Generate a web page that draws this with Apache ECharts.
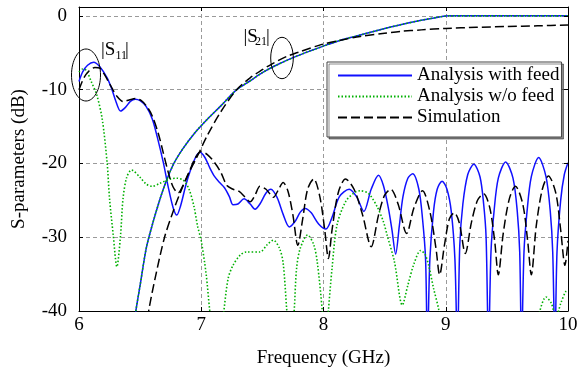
<!DOCTYPE html>
<html>
<head>
<meta charset="utf-8">
<script src="https://cdn.jsdelivr.net/npm/echarts@6/dist/echarts.min.js"></script>
<style>
html,body{margin:0;padding:0;background:#fff;}
#chart{width:585px;height:373px;}
</style>
</head>
<body>
<div id="chart"></div>
<script>
// ---- data (frequency in GHz, value in dB) ----
var xTicks = [6, 7, 8, 9, 10];
var yTicks = [-40, -30, -20, -10, 0];
var seriesNames = ['Analysis with feed', 'Analysis w/o feed', 'Simulation'];

var s11WithFeed = [
  [6.0,-8.9],[6.03,-7.6],[6.07,-6.7],[6.12,-6.3],[6.17,-6.9],[6.23,-8.4],[6.27,-10.0],[6.30,-11.5],
  [6.34,-12.9],[6.38,-12.4],[6.42,-11.6],[6.46,-11.3],[6.50,-11.5],[6.55,-12.3],[6.60,-14.0],[6.64,-16.4],
  [6.69,-19.9],[6.73,-23.2],[6.77,-26.0],[6.80,-27.0],[6.83,-25.8],[6.87,-23.2],[6.90,-21.5],[6.95,-19.3],
  [6.99,-18.5],[7.03,-19.2],[7.07,-20.6],[7.11,-21.8],[7.15,-22.6],[7.19,-23.3],[7.23,-24.5],[7.26,-25.6],
  [7.30,-25.5],[7.35,-24.8],[7.40,-25.5],[7.44,-26.2],[7.48,-25.5],[7.53,-24.0],[7.57,-23.5],[7.62,-24.6],
  [7.67,-26.9],[7.72,-28.6],[7.77,-27.8],[7.81,-26.6],[7.85,-26.1],[7.90,-26.7],[7.96,-28.2],[8.02,-28.9],
  [8.07,-27.3],[8.13,-24.5],[8.21,-23.5],[8.27,-24.5],[8.33,-26.5],[8.39,-23.5],[8.45,-21.6],[8.49,-23.0],
  [8.53,-26.0],[8.56,-29.0],[8.59,-32.3],[8.62,-28.5],[8.65,-24.5],[8.69,-22.0],[8.73,-21.4],[8.78,-23.5],
  [8.81,-27.5],[8.835,-33],[8.85,-45],[8.87,-33],[8.90,-26.5],[8.93,-23.5],[8.97,-22.4],[9.01,-23.5],
  [9.045,-26.5],[9.075,-33],[9.095,-45],[9.115,-31],[9.14,-25.5],[9.18,-21.5],[9.23,-20.1],[9.28,-21.8],
  [9.31,-25.5],[9.33,-30],[9.35,-45],[9.37,-32],[9.395,-26.5],[9.43,-22.0],[9.49,-19.8],[9.55,-22.0],
  [9.585,-26.5],[9.605,-32],[9.62,-45],[9.64,-32],[9.665,-26.5],[9.70,-21.8],[9.76,-19.2],[9.82,-21.8],
  [9.855,-26.5],[9.875,-32],[9.893,-45],[9.91,-32],[9.94,-25.0],[9.97,-21.5],[10.0,-19.9]
];

var s21WithFeed = [
  [6.40,-48],[6.465,-40],[6.50,-36.5],[6.55,-31.5],[6.60,-28.3],[6.65,-25.5],[6.70,-23.0],[6.77,-20.2],
  [6.85,-18.0],[6.95,-15.8],[7.05,-14.0],[7.16,-12.2],[7.29,-10.0],[7.40,-8.8],[7.50,-7.7],[7.60,-6.8],
  [7.76,-5.6],[7.90,-4.7],[8.00,-4.1],[8.14,-3.3],[8.30,-2.6],[8.47,-1.85],[8.63,-1.2],[8.80,-0.6],
  [8.95,-0.15],[9.03,0],[9.5,0],[10.0,0]
];

var s11WithoutFeed = [
  [6.0,-7.6],[6.03,-7.2],[6.06,-7.4],[6.10,-8.9],[6.145,-10.7],[6.19,-14.0],[6.23,-19.9],[6.25,-24.8],
  [6.28,-29.7],[6.31,-34.0],[6.34,-29.7],[6.36,-24.8],[6.39,-21.9],[6.43,-20.9],[6.50,-21.9],[6.55,-22.8],
  [6.60,-23.1],[6.66,-22.7],[6.75,-22.1],[6.80,-22.0],[6.855,-22.3],[6.90,-23.5],[6.94,-25.8],[6.97,-28.5],
  [7.00,-30.5],[7.04,-35],[7.07,-40],[7.13,-48],[7.185,-40],[7.22,-35.6],[7.26,-33.8],[7.32,-32.4],
  [7.37,-32.0],[7.48,-32.0],[7.54,-31.0],[7.59,-30.4],[7.64,-31.5],[7.67,-33.5],[7.70,-40],[7.73,-46],
  [7.76,-40],[7.78,-34.2],[7.81,-31.5],[7.87,-29.7],[7.92,-31.0],[7.95,-33.5],[7.99,-40],[8.015,-46],
  [8.04,-40],[8.07,-34.2],[8.11,-28.4],[8.18,-25.2],[8.25,-24.0],[8.30,-23.7],[8.37,-24.1],[8.44,-25.9],
  [8.49,-27.9],[8.52,-29.7],[8.58,-33.3],[8.645,-39.2],[8.69,-36.5],[8.74,-33.6],[8.795,-31.8],[8.83,-32.3],
  [8.86,-33.8],[8.90,-36.9],[8.945,-40],[9.0,-46],[9.2,-50],[9.5,-50],[9.7,-46],[9.77,-40],
  [9.82,-38.1],[9.865,-39.0],[9.90,-41],[9.94,-39.0],[9.98,-37.4],[10.0,-37.2]
];

var s21WithoutFeed = s21WithFeed; // identical curve in the reference

var s11Simulation = [
  [6.0,-10.0],[6.04,-8.4],[6.08,-7.5],[6.13,-7.0],[6.17,-7.1],[6.21,-8.0],[6.26,-9.5],[6.31,-10.9],
  [6.36,-11.6],[6.41,-11.4],[6.46,-11.2],[6.51,-11.5],[6.56,-12.4],[6.60,-13.6],[6.65,-16.0],[6.69,-18.6],
  [6.73,-21.2],[6.77,-23.2],[6.81,-24.0],[6.85,-23.0],[6.90,-21.2],[6.95,-19.3],[7.00,-18.4],[7.05,-18.8],
  [7.11,-19.9],[7.16,-21.2],[7.21,-23.0],[7.26,-23.5],[7.31,-23.8],[7.36,-24.6],[7.40,-25.2],[7.44,-24.3],
  [7.48,-23.1],[7.53,-23.5],[7.59,-24.6],[7.63,-23.6],[7.67,-22.6],[7.71,-23.8],[7.75,-27.0],[7.79,-31.1],
  [7.83,-27.5],[7.87,-23.5],[7.92,-22.1],[7.97,-24.5],[8.01,-29.0],[8.04,-32.9],[8.07,-29.0],[8.12,-24.0],
  [8.18,-22.1],[8.25,-23.5],[8.32,-27.0],[8.39,-31.3],[8.45,-27.0],[8.50,-24.3],[8.55,-23.5],[8.61,-25.5],
  [8.68,-29.5],[8.74,-26.0],[8.81,-23.7],[8.87,-26.5],[8.92,-31.5],[8.95,-35.1],[8.99,-31.0],[9.03,-27.5],
  [9.07,-26.7],[9.11,-28.0],[9.16,-32.2],[9.21,-28.0],[9.26,-25.0],[9.31,-24.1],[9.36,-26.0],[9.40,-30.5],
  [9.43,-35.1],[9.47,-29.5],[9.52,-24.8],[9.57,-23.1],[9.63,-25.5],[9.67,-30.5],[9.70,-35.1],[9.74,-28.5],
  [9.79,-23.5],[9.84,-21.7],[9.90,-24.0],[9.94,-29.0],[9.975,-33.8],[10.0,-30.5]
];

var s21Simulation = [
  [6.50,-48],[6.57,-40],[6.63,-35],[6.70,-30],[6.77,-26.5],[6.83,-23.9],[6.90,-21.2],[6.96,-19.3],
  [7.05,-16.2],[7.16,-13.0],[7.29,-10.0],[7.40,-8.4],[7.50,-7.3],[7.58,-6.5],[7.70,-5.5],[7.80,-4.9],
  [7.98,-3.9],[8.14,-3.3],[8.30,-2.8],[8.50,-2.35],[8.63,-2.1],[8.80,-1.9],[9.00,-1.7],[9.25,-1.55],
  [9.50,-1.45],[9.75,-1.35],[10.0,-1.25]
];

// ---- chart ----
var FONT = 'Liberation Serif';
var BLUE = '#1010ff', GREEN = '#00b000', BLACK = '#000000';

function lineSeries(name, data, color, type, width, z) {
  return {
    name: name, type: 'line', data: data, smooth: 0.3, symbol: 'none',
    clip: true, z: z, animation: false,
    lineStyle: { color: color, width: width, type: type },
    itemStyle: { color: color }
  };
}

var axisCommon = {
  type: 'value',
  axisLine: { show: true, onZero: false, lineStyle: { color: '#000', width: 1 } },
  axisTick: { show: true, inside: true, length: 4, lineStyle: { color: '#000' } }
};

function label(x, y, txt, size) {
  return { type: 'text', z: 10, x: x, y: y,
    style: { text: txt, fontFamily: FONT, fontSize: size, fill: '#000',
      align: 'left', verticalAlign: 'middle' } };
}

var chart = echarts.init(document.getElementById('chart'), null, { renderer: 'canvas' });
chart.setOption({
  animation: false,
  backgroundColor: '#fff',
  textStyle: { fontFamily: FONT },
  grid: { left: 79, right: 17, top: 7, bottom: 60, containLabel: false },
  xAxis: [
    Object.assign({}, axisCommon, {
      position: 'bottom', min: xTicks[0], max: xTicks[xTicks.length - 1], interval: 1,
      name: 'Frequency (GHz)', nameLocation: 'middle', nameGap: 38,
      nameTextStyle: { fontFamily: FONT, fontSize: 19, color: '#000' },
      axisLabel: { fontFamily: FONT, fontSize: 19, color: '#000', margin: 5 },
      splitLine: { show: true, showMinLine: false, showMaxLine: false,
        lineStyle: { color: '#9a9a9a', type: [4, 3], width: 1 } }
    }),
    Object.assign({}, axisCommon, {
      position: 'top', min: xTicks[0], max: xTicks[xTicks.length - 1], interval: 1, z: 5,
      axisLabel: { show: false }, splitLine: { show: false }
    })
  ],
  yAxis: [
    Object.assign({}, axisCommon, {
      position: 'left', min: yTicks[0], max: 1.2, interval: 10,
      name: 'S-parameters (dB)', nameLocation: 'middle', nameGap: 50,
      nameTextStyle: { fontFamily: FONT, fontSize: 19, color: '#000' },
      axisLabel: { fontFamily: FONT, fontSize: 19, color: '#000', margin: 12, showMaxLabel: false,
        formatter: function (v) { return yTicks.indexOf(v) >= 0 ? String(v) : ''; } },
      splitLine: { show: true, showMinLine: false, showMaxLine: false,
        lineStyle: { color: '#9a9a9a', type: [4, 3], width: 1 } }
    }),
    Object.assign({}, axisCommon, {
      position: 'right', min: yTicks[0], max: 1.2, interval: 10, z: 5,
      axisLabel: { show: false }, splitLine: { show: false }
    })
  ],
  legend: {
    orient: 'vertical', left: 327, top: 62,
    data: seriesNames,
    itemWidth: 74, itemHeight: 16, itemGap: 2,
    padding: [4, 2, 10, 10],
    backgroundColor: '#fff', borderColor: '#444', borderWidth: 1,
    shadowColor: 'rgba(0,0,0,0.45)', shadowOffsetX: 2, shadowOffsetY: 2, shadowBlur: 0,
    itemStyle: { color: 'rgba(0,0,0,0)', borderColor: 'rgba(0,0,0,0)', borderWidth: 0, opacity: 0 },
    textStyle: { fontFamily: FONT, fontSize: 19, color: '#000' },
    selectedMode: false
  },
  series: [
    lineSeries(seriesNames[0], s11WithFeed, BLUE, 'solid', 1.5, 2),
    lineSeries(seriesNames[0], s21WithFeed, BLUE, 'solid', 1.5, 2),
    lineSeries(seriesNames[1], s11WithoutFeed, GREEN, [1.5, 2], 1.6, 3),
    lineSeries(seriesNames[1], s21WithoutFeed, GREEN, [1.5, 2], 1.6, 3),
    lineSeries(seriesNames[2], s11Simulation, BLACK, [9, 4], 1.5, 4),
    lineSeries(seriesNames[2], s21Simulation, BLACK, [9, 4], 1.5, 4)
  ],
  graphic: [
    { type: 'ellipse', z: 10, shape: { cx: 86, cy: 75, rx: 14.5, ry: 26 },
      style: { fill: 'none', stroke: '#000', lineWidth: 1 } },
    { type: 'ellipse', z: 10, shape: { cx: 282, cy: 58, rx: 11.3, ry: 20.7 },
      style: { fill: 'none', stroke: '#000', lineWidth: 1 } },
    label(101, 50, '|S', 19),
    label(115.5, 56, '11', 12),
    label(125, 50, '|', 19),
    label(243.5, 37, '|S', 19),
    label(255, 41.5, '21', 12),
    label(266, 37, '|', 19)
  ]
});
</script>
</body>
</html>
